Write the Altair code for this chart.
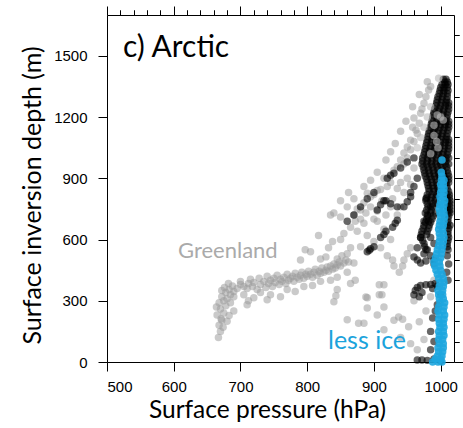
import altair as alt
import pandas as pd

# ---------------- data ----------------
GRAY_PTS = [
    # Greenland hook
    (667,120),(670,150),(668,180),(672,205),(665,230),(675,240),(670,260),(678,275),(668,290),(675,300),
    (680,310),(672,320),(685,330),(678,340),(690,345),(683,355),(672,350),(695,360),(688,372),(700,380),
    (676,365),(682,385),(690,250),(680,200),(674,170),(685,290),(690,320),(664,270),(671,212),(683,228),
    # Greenland band
    (700,395),(705,370),(710,360),(712,385),(715,405),(718,370),(720,390),(725,355),(728,410),(730,380),
    (735,395),(738,365),(740,420),(742,385),(745,400),(748,370),(750,410),(752,390),(755,425),(758,380),
    (760,405),(762,395),(765,415),(768,385),(770,430),(772,400),(775,410),(778,420),(780,395),(782,435),
    (785,415),(788,405),(790,425),(792,440),(795,410),(798,430),(800,420),(802,445),(805,430),(808,415),
    (810,440),(812,455),(815,425),(818,445),(820,435),(822,460),(825,440),(828,450),(830,465),(832,445),
    (835,470),(838,455),(840,480),(842,460),(845,475),(848,490),(850,470),(855,485),(858,500),(862,490),
    (705,330),(712,300),(720,315),(730,340),(745,330),(760,320),(770,355),(782,345),(795,370),(808,375),
    (820,395),(835,400),(845,415),(860,440),(710,280),(740,305),
    # scatter above the band
    (790,500),(805,540),(820,505),(828,515),(832,560),(838,590),(845,505),(852,520),(850,600),(855,630),
    (850,710),(865,660),(872,690),(880,745),(885,780),(890,827),(860,530),(865,560),(870,485),(880,565),
    (890,620),(817,620),(797,550),(835,720),(840,730),(860,760),(870,800),(850,790),(862,830),
    # halo around the Arctic wedge
    (900,820),(905,840),(895,810),(910,845),(870,720),(875,750),(880,700),(888,730),(895,760),(900,700),
    (905,740),(912,790),(920,860),(925,880),(915,900),(930,940),(935,956),(940,990),(945,1024),(950,1053),
    (955,1087),(963,1136),(960,1195),(970,1219),(975,1268),(982,1332),(980,1373),(945,970),(950,1000),
    (955,1040),(960,1080),(965,1120),(958,1150),(968,1170),(972,1240),(978,1300),(985,1350),(930,470),
    (943,470),(938,440),(928,500),(945,500),(950,530),(955,560),(920,520),(910,560),(900,590),(925,600),
    (915,650),(935,720),(940,760),(925,760),(945,830),(955,870),(950,900),(960,950),
    (885,860),(895,890),(905,930),(918,990),(925,1030),(932,1070),(940,1130),(948,1180),(958,1250),
    (968,1310),(875,640),(885,680),(905,690),(918,720),(928,800),(935,850),(940,880),
    # low scatter
    (840,295),(843,325),(845,355),(860,207),(877,190),(885,190),(890,265),(890,315),(865,385),(872,400),
    (908,378),(915,378),(908,330),(912,330),(888,318),(905,230),(915,270),(930,205),(937,220),(943,210),
    (952,173),(915,158),(940,120),(975,110),(968,197),(955,90),(965,60),(985,320),(978,250),(990,400),
    (960,300),
]

GRAY_TOP_PTS = [
    (997,1390),(1000,1200),(1004,1185),(995,1210),(990,1160),(985,1250),(994,1080),(996,1050),
    (975,1150),(970,1100),(980,1200),(965,1050),(985,1020),(990,1110),
]

BLACK_PTS = [
    # dense wedge near sea level pressure
    (1004,1385),(1008,1385),
    (1002,1360),(1007,1360),(1011,1360),
    (999,1330),(1005,1330),(1011,1330),
    (996,1300),(1003,1300),(1010,1300),
    (994,1270),(1001,1270),(1008,1270),(1012,1270),
    (991,1240),(998,1240),(1005,1240),(1012,1240),
    (989,1210),(996,1210),(1003,1210),(1010,1210),
    (987,1180),(994,1180),(1001,1180),(1008,1180),(1012,1180),
    (985,1150),(992,1150),(999,1150),(1006,1150),(1012,1150),
    (982,1120),(989,1120),(996,1120),(1003,1120),(1010,1120),
    (980,1090),(987,1090),(994,1090),(1001,1090),(1008,1090),(1012,1090),
    (978,1060),(985,1060),(992,1060),(999,1060),(1006,1060),(1012,1060),
    (976,1030),(983,1030),(990,1030),(997,1030),(1004,1030),(1011,1030),
    (973,1000),(980,1000),(987,1000),(994,1000),(1001,1000),(1008,1000),(1012,1000),
    (972,970),(979,970),(986,970),(993,970),(1000,970),(1007,970),(1012,970),
    (975,940),(982,940),(989,940),(996,940),(1003,940),(1010,940),
    (977,910),(984,910),(991,910),(998,910),(1005,910),(1012,910),
    (980,880),(987,880),(994,880),(1001,880),(1008,880),(1012,880),
    (982,850),(989,850),(996,850),(1003,850),(1010,850),
    (980,820),(987,820),(994,820),(1009,820),(1013,820),
    (978,790),(985,790),(992,790),(1010,790),(1014,790),
    (981,760),(988,760),(1010,760),(1014,760),
    (977,730),(985,730),(992,730),(1011,730),(1014,730),
    (979,700),(987,700),(1011,700),
    (975,670),(983,670),(1010,670),(1014,670),
    (972,640),(980,640),(1011,640),
    (970,610),(985,610),(1012,610),
    (975,580),(990,580),(1010,580),
    (978,550),(1011,550),
    (985,520),(1010,520),
    (990,480),(1012,480),
    (1009,440),(1011,400),
    # wedge, in-between rows
    (1006,1372),(1010,1372),
    (1000,1345),(1005,1345),(1010,1345),
    (998,1315),(1004,1315),(1010,1315),
    (995,1285),(1002,1285),(1009,1285),
    (993,1255),(1000,1255),(1007,1255),(1012,1255),
    (990,1225),(997,1225),(1004,1225),(1011,1225),
    (988,1195),(995,1195),(1002,1195),(1009,1195),
    (986,1165),(993,1165),(1000,1165),(1007,1165),(1012,1165),
    (983,1135),(990,1135),(997,1135),(1004,1135),(1011,1135),
    (981,1105),(988,1105),(995,1105),(1002,1105),(1009,1105),
    (979,1075),(986,1075),(993,1075),(1000,1075),(1007,1075),(1012,1075),
    (977,1045),(984,1045),(991,1045),(998,1045),(1005,1045),(1012,1045),
    (975,1015),(982,1015),(989,1015),(996,1015),(1003,1015),(1010,1015),
    (973,985),(980,985),(987,985),(994,985),(1001,985),(1008,985),
    (974,955),(981,955),(988,955),(995,955),(1002,955),(1009,955),
    (976,925),(983,925),(990,925),(997,925),(1004,925),(1011,925),
    (979,895),(986,895),(993,895),(1000,895),(1007,895),(1012,895),
    (981,865),(988,865),(995,865),(1002,865),(1009,865),
    (983,835),(990,835),(997,835),(1006,835),(1012,835),
    (979,805),(986,805),(993,805),(1009,805),(1013,805),
    (980,775),(988,775),(995,775),(1011,775),(1014,775),
    (979,745),(986,745),(1011,745),(1014,745),
    (981,715),(989,715),(1012,715),
    (977,685),(985,685),(1011,685),
    (974,655),(982,655),(1012,655),
    (971,625),(979,625),(1011,625),
    (973,595),(1011,595),
    (976,565),(1010,565),
    # scattered Arctic points
    (920,900),(925,915),(930,925),(918,790),(925,775),(935,760),(890,540),(895,555),(900,565),(893,548),
    (910,610),(915,625),(918,640),(928,660),(932,680),(935,695),(945,760),(950,785),(955,810),(955,830),
    (960,860),(965,900),(960,515),(965,560),(970,610),(965,500),(975,530),(980,550),(975,690),(980,720),
    (985,760),(978,800),(982,690),(905,745),(910,770),(915,790),(860,690),(870,720),(880,760),(890,800),
    (900,830),(940,950),(950,980),(960,1000),
    # hook near 350 m and low points
    (960,330),(962,350),(965,365),(970,375),(978,378),(985,380),(992,385),(995,372),(988,360),(972,340),
    (968,320),(1000,330),(970,485),(978,495),(990,500),
    (988,216),(985,60),(965,10),(972,10),(980,8),(990,15),(1000,5),(992,250),(995,280),(985,150),(990,100),
]

BLUE_PTS = [
    (988,0),(996,0),(1002,0),(992,15),(1000,15),(995,30),(1002,30),(997,50),(1003,50),(996,70),(1004,70),
    (998,90),(1004,90),(997,110),(1003,110),(998,130),(1005,130),(997,150),(1004,150),(999,170),(1005,170),
    (998,190),(1004,190),(997,210),(1005,210),(998,230),(1006,230),(996,250),(1004,250),(997,270),(1005,270),
    (999,290),(1006,290),(998,310),(1004,310),(997,330),(1003,330),(996,350),(1003,350),(998,370),(1004,370),
    (999,390),(1005,390),(997,410),(1004,410),(995,430),(1002,430),(993,450),(1000,450),(991,470),(999,470),
    (990,490),(998,490),(992,510),(1000,510),(994,530),(1001,530),(995,550),(1002,550),(997,570),(1003,570),
    (998,590),(1004,590),(999,610),(1005,610),(998,630),(1004,630),(997,650),(1003,650),(998,670),(1004,670),
    (999,690),(1005,690),(1000,710),(1006,710),(999,730),(1005,730),(998,750),(1004,750),(999,770),(1005,770),
    (1000,790),(1006,790),(999,810),(1004,810),(1000,830),(1005,830),(1001,850),(1005,850),(1000,870),
    (1004,870),(1001,890),(1005,890),(1002,910),(1001,930),(1002,990),
]

X_MAJOR = [500, 600, 700, 800, 900, 1000]
X_MINOR = [520, 540, 560, 580, 620, 640, 660, 680, 720, 740, 760, 780,
           820, 840, 860, 880, 920, 940, 960, 980]
Y_MAJOR = [0, 300, 600, 900, 1200, 1500]
Y_MINOR = [100, 200, 400, 500, 700, 800, 1000, 1100, 1300, 1400, 1600]

LABEL_PANEL = "c) Arctic"
LABEL_GREEN = "Greenland"
LABEL_ICE = "less ice"


def frame(pts):
    return pd.DataFrame(pts, columns=["p", "d"])


xs = alt.Scale(domain=[500, 1020], nice=False, zero=False)
ys = alt.Scale(domain=[0, 1700], nice=False, zero=False)

TITLE_FONT = "Lato"
LBL_FONT = "Liberation Sans"


def axis_kw(**kw):
    base = dict(grid=False, domainColor="black", tickColor="black", domainWidth=1,
                tickWidth=1, labelColor="black", format="d")
    base.update(kw)
    return alt.Axis(**base)


pt = dict(size=56, stroke=None)

gray = alt.Chart(frame(GRAY_PTS)).mark_circle(color="#999999", opacity=0.52, **pt).encode(
    x=alt.X("p:Q", scale=xs, axis=axis_kw(
        values=X_MAJOR, tickSize=9, labelFont=LBL_FONT, labelFontSize=15, labelPadding=8,
        title="Surface pressure (hPa)", titleFont=TITLE_FONT, titleFontSize=24.5,
        titleFontWeight="normal", titleColor="black", titlePadding=4, titleX=160)),
    y=alt.Y("d:Q", scale=ys, axis=axis_kw(
        values=Y_MAJOR, tickSize=9, labelFont=LBL_FONT, labelFontSize=15, labelPadding=11,
        title="Surface inversion depth (m)", titleFont=TITLE_FONT, titleFontSize=25,
        titleFontWeight="normal", titleColor="black", titlePadding=8, titleY=180)),
)

black = alt.Chart(frame(BLACK_PTS)).mark_circle(color="#000000", opacity=0.6, **pt).encode(
    x=alt.X("p:Q", scale=xs, axis=axis_kw(values=X_MINOR, tickSize=5, labels=False,
                                          domain=False, title=None)),
    y=alt.Y("d:Q", scale=ys, axis=axis_kw(values=Y_MINOR, tickSize=5, labels=False,
                                          domain=False, title=None)),
)

gray_top = alt.Chart(frame(GRAY_TOP_PTS)).mark_circle(color="#bbbbbb", opacity=0.6, **pt).encode(
    x=alt.X("p:Q", scale=xs, axis=axis_kw(orient="top", values=X_MAJOR, tickSize=9,
                                          labels=False, title=None)),
    y=alt.Y("d:Q", scale=ys, axis=axis_kw(orient="right", values=Y_MAJOR, tickSize=9,
                                          labels=False, title=None)),
)

blue = alt.Chart(frame(BLUE_PTS)).mark_circle(color="#1ea6df", opacity=0.9, **pt).encode(
    x=alt.X("p:Q", scale=xs, axis=axis_kw(orient="top", values=X_MINOR, tickSize=5,
                                          labels=False, domain=False, title=None)),
    y=alt.Y("d:Q", scale=ys, axis=axis_kw(orient="right", values=Y_MINOR, tickSize=5,
                                          labels=False, domain=False, title=None)),
)

txt_panel = alt.Chart(pd.DataFrame({"t": [LABEL_PANEL]})).mark_text(
    font=TITLE_FONT, fontSize=30, color="black", align="left", baseline="alphabetic"
).encode(text="t:N", x=alt.value(16), y=alt.value(42))

txt_green = alt.Chart(pd.DataFrame({"t": [LABEL_GREEN]})).mark_text(
    font=TITLE_FONT, fontSize=22, color="#aaaaaa", align="left", baseline="alphabetic"
).encode(text="t:N", x=alt.value(71), y=alt.value(243))

txt_ice = alt.Chart(pd.DataFrame({"t": [LABEL_ICE]})).mark_text(
    font=TITLE_FONT, fontSize=25, color="#1ba3dc", align="left", baseline="alphabetic"
).encode(text="t:N", x=alt.value(221), y=alt.value(334))

chart = alt.layer(gray, black, gray_top, blue, txt_panel, txt_green, txt_ice).resolve_axis(
    x="independent", y="independent"
).properties(
    width=347, height=347,
    autosize=alt.AutoSizeParams(type="none"),
    padding={"left": 107, "top": 15, "right": 9, "bottom": 66},
).configure_view(stroke=None).configure(background="white")

chart.save("out.html", embed_options={"renderer": "svg", "actions": False})
